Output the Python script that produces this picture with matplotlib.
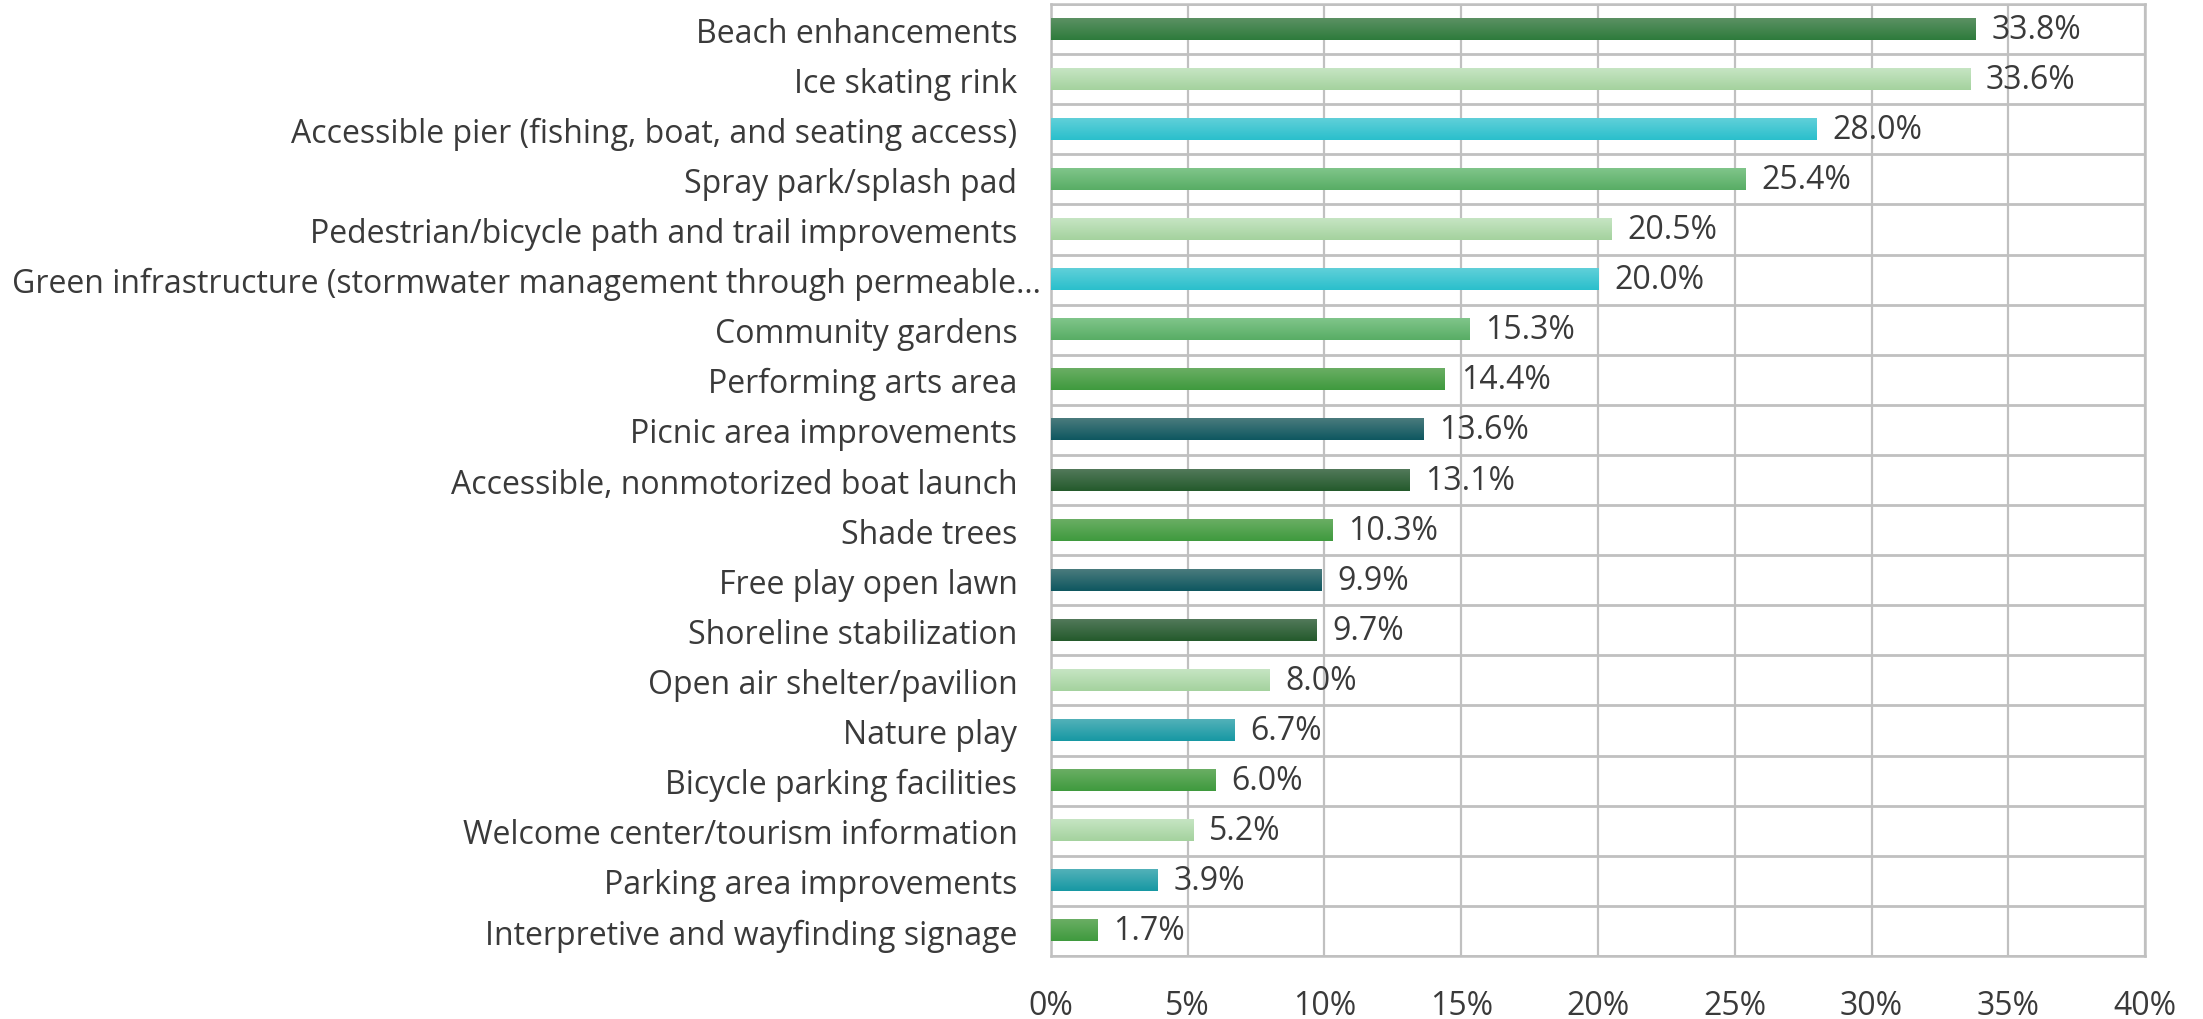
import numpy as np
import matplotlib.pyplot as plt
import matplotlib.transforms as mtransforms
from matplotlib.colors import LinearSegmentedColormap

plt.rcParams['font.family'] = ['Open Sans', 'DejaVu Sans']

categories = [
    'Beach enhancements',
    'Ice skating rink',
    'Accessible pier (fishing, boat, and seating access)',
    'Spray park/splash pad',
    'Pedestrian/bicycle path and trail improvements',
    'Green infrastructure (stormwater management through permeable…',
    'Community gardens',
    'Performing arts area',
    'Picnic area improvements',
    'Accessible, nonmotorized boat launch',
    'Shade trees',
    'Free play open lawn',
    'Shoreline stabilization',
    'Open air shelter/pavilion',
    'Nature play',
    'Bicycle parking facilities',
    'Welcome center/tourism information',
    'Parking area improvements',
    'Interpretive and wayfinding signage',
]
values = [33.8, 33.6, 28.0, 25.4, 20.5, 20.0, 15.3, 14.4, 13.6, 13.1,
          10.3, 9.9, 9.7, 8.0, 6.7, 6.0, 5.2, 3.9, 1.7]
color_keys = ['darkgreen', 'light', 'cyan', 'mid', 'light', 'cyan', 'mid', 'green',
              'darkteal', 'deepgreen', 'green', 'darkteal', 'deepgreen', 'light',
              'teal', 'green', 'light', 'teal', 'green']

# (top, bottom) gradient colours
palette = {
    'darkgreen': ('#5b9163', '#2e7b3c'),
    'deepgreen': ('#52795a', '#245a2c'),
    'light': ('#c6e5c3', '#a4d29e'),
    'cyan': ('#60d0d9', '#2abfcc'),
    'mid': ('#80c58a', '#58ad65'),
    'green': ('#6aae64', '#3f9a3e'),
    'darkteal': ('#4a7b7d', '#0e5760'),
    'teal': ('#52b1b9', '#1798a3'),
}

fs = 23

fig = plt.figure(figsize=(22.03, 10.2), dpi=100)
ax = fig.add_axes([0.477, 0.0618, 0.4967, 0.9332])

n = len(categories)
y = np.arange(n)
h = 0.42
grad = np.linspace(0, 1, 64).reshape(-1, 1)
for yi, v, key in zip(y, values, color_keys):
    top, bot = palette[key]
    cmap = LinearSegmentedColormap.from_list(key, [top, bot])
    ax.imshow(grad, cmap=cmap, aspect='auto', extent=[0, v, yi + h / 2, yi - h / 2],
              zorder=3, interpolation='bilinear')
    ax.annotate(f'{v:.1f}%', xy=(v, yi), xytext=(11.5, 0), textcoords='offset points',
                va='center', ha='left', fontsize=fs, color='#3a3a3a', zorder=4)

ax.set_xlim(0, 40)
ax.set_ylim(n - 0.5, -0.5)
ax.set_xticks(np.arange(0, 41, 5))
ax.set_xticklabels([f'{t}%' for t in range(0, 41, 5)])
ax.set_yticks(y)
ax.set_yticklabels(categories)
ax.set_yticks(np.arange(n + 1) - 0.5, minor=True)

ax.grid(axis='x', which='major', color='#c0c0c0', linewidth=1.6, zorder=0)
ax.grid(axis='y', which='minor', color='#c0c0c0', linewidth=2, zorder=0)
ax.set_axisbelow(True)

ax.tick_params(axis='both', which='both', length=0, labelsize=fs, colors='#3a3a3a')
ax.tick_params(axis='y', pad=24)
ax.tick_params(axis='x', pad=24)
for s in ['left', 'bottom', 'right', 'top']:
    ax.spines[s].set_color('#c0c0c0')
    ax.spines[s].set_linewidth(1.8)

# the truncated label sticks out past the others a bit in the original
lbl = ax.get_yticklabels()[5]
lbl.set_transform(lbl.get_transform() + mtransforms.ScaledTranslation(0.24, 0, fig.dpi_scale_trans))

fig.savefig('out.png', dpi=100)
